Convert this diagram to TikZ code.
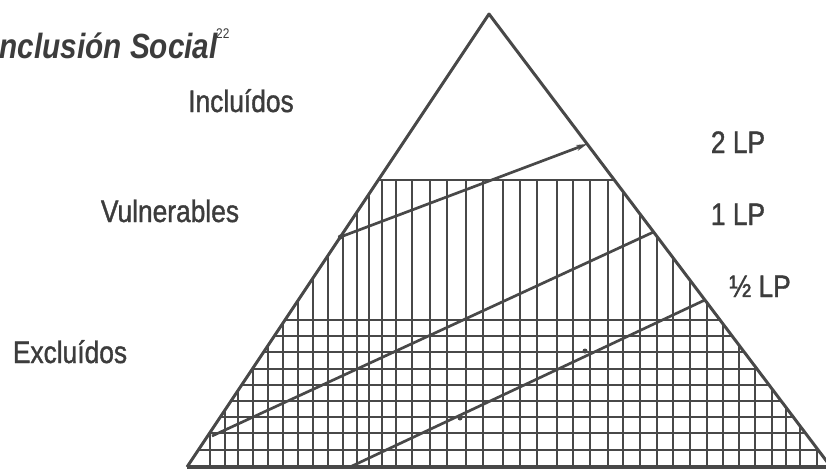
\documentclass[tikz,border=0pt]{standalone}
\usepackage{fontspec}
\setmainfont{Liberation Sans}
\newfontfamily\narrowsans{Liberation Sans}[FakeStretch=0.85,FakeBold=1.2]
\newfontfamily\titlesans{Liberation Sans}[FakeStretch=0.85]
\usetikzlibrary{arrows.meta,calc}
\definecolor{ink}{HTML}{484848}
\definecolor{txt}{HTML}{3C3C3C}
\begin{document}
\begin{tikzpicture}[x=1pt,y=-1pt,
  edge/.style={draw=ink,line width=3pt,line join=round},
  gridline/.style={draw=ink,line width=2.1pt},
  bandline/.style={draw=ink,line width=2.7pt},
  lbl/.style={text=txt,font=\narrowsans\fontsize{31}{31}\selectfont,inner sep=0pt,anchor=base},
  titlelbl/.style={text=txt,font=\titlesans\bfseries\itshape\fontsize{35}{35}\selectfont,inner sep=0pt,anchor=base west},
  notelbl/.style={text=txt,font=\titlesans\fontsize{14}{14}\selectfont,inner sep=0pt,anchor=base west},
  dotmark/.style={circle,fill=ink,inner sep=0pt,minimum size=5pt}
 ]
\useasboundingbox (0,0) rectangle (826,474);
% triangle corners
\coordinate (apex) at (489,14);
\coordinate (bl) at (187,467);
\coordinate (br) at (831,467);
% band limits
\coordinate (v1) at ($(apex)!0.3664!(bl)$);
\coordinate (v2) at ($(apex)!0.3664!(br)$);
\coordinate (h1) at ($(apex)!0.6755!(bl)$);
\coordinate (h2) at ($(apex)!0.6755!(br)$);
% vertical hatching
\begin{scope}
  \clip (v1) -- (v2) -- (br) -- (bl) -- cycle;
  \foreach \x in {210,225,238,253,268,283,298,313,328,343,357,369,382,396,412,430,447,466,483,503,520,537,557,573,590,608,623,640,657,673,690,707,723,739,755,772,786,800,817}
    \draw[gridline] (\x,170) -- (\x,470);
\end{scope}
% horizontal hatching
\begin{scope}
  \clip (h1) -- (h2) -- (br) -- (bl) -- cycle;
  \foreach \y in {336,352,369,385,401,417,433,450}
    \draw[gridline] (150,\y) -- (840,\y);
\end{scope}
\draw[bandline] (v1) -- (v2);
\draw[bandline] (h1) -- (h2);
% triangle
\draw[edge] (bl) -- (apex) -- (br);
\draw[edge,line width=3.4pt] (bl) -- (br);
% diagonal lines
\coordinate (a1) at ($(apex)!0.4923!(bl)$);
\coordinate (a2) at ($(apex)!0.287!(br)$);
\coordinate (d2a) at (212,436);
\coordinate (d2b) at ($(apex)!0.4812!(br)$);
\coordinate (d3a) at (350,467);
\coordinate (d3b) at ($(apex)!0.6313!(br)$);
\draw[bandline,-{Stealth[length=11pt,width=6pt]}] (a1) -- (a2);
\draw[bandline] (d2a) -- (d2b);
\draw[bandline] (d3a) -- (d3b);
\node[dotmark] (m1) at (a1) {};
\node[dotmark] (m2) at (585,351) {};
\node[dotmark] (m3) at (460,418) {};
% texts
\node[titlelbl] (title) at (-9,58) {Inclusión Social};
\node[notelbl] (note) at (216,38) {22};
\node[lbl] (incl) at (241,112) {Incluídos};
\node[lbl] (vuln) at (170,222) {Vulnerables};
\node[lbl] (excl) at (70,363) {Excluídos};
\node[lbl] (lp2) at (738,153) {2 LP};
\node[lbl] (lp1) at (738,225) {1 LP};
\node[lbl] (lph) at (760,297) {½ LP};
\end{tikzpicture}
\end{document}
